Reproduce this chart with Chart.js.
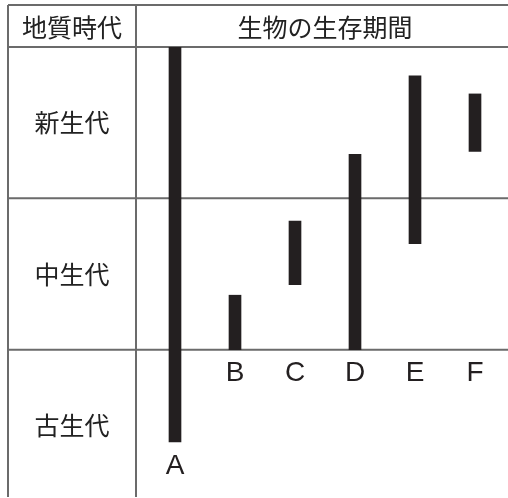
<!DOCTYPE html>
<html>
<head>
<meta charset="utf-8">
<script src="https://cdn.jsdelivr.net/npm/chart.js@4.4.0/dist/chart.umd.min.js"></script>
<style>
  html, body { margin: 0; padding: 0; background: #fff; }
  canvas { display: block; }
</style>
</head>
<body>
<canvas id="chart1" width="508" height="498"></canvas>
<script>
// 地質時代（上から新しい順）
const eras = ['新生代', '中生代', '古生代'];
// 生物 A〜F
const organisms = ['A', 'B', 'C', 'D', 'E', 'F'];
// 生存期間（時代の境目を 1, 2 とした目盛り。0 が現在、値が大きいほど古い）
const ageYoungest = [0.00, 1.64, 1.15, 0.71, 0.19, 0.31];
const ageOldest   = [2.61, 2.00, 1.57, 2.00, 1.30, 0.69];

const LineColor = '#6b6b6b';
const BarColor = '#231f20';
const TextFont = '"Noto Sans CJK JP", sans-serif';

// 表の罫線と文字
const tablePlugin = {
  id: 'table',
  beforeDatasetsDraw(chart) {
    const ctx = chart.ctx;
    const a = chart.chartArea;
    const y = chart.scales.y;
    const left = 8, top = 5, divider = a.left;
    ctx.save();
    ctx.strokeStyle = LineColor;
    ctx.lineWidth = 2;
    ctx.beginPath();
    ctx.moveTo(left, top); ctx.lineTo(a.right, top);              // 上
    ctx.moveTo(left, a.top); ctx.lineTo(a.right, a.top);          // 見出しの下
    for (let i = 1; i < eras.length; i++) {                       // 時代の境目
      const py = y.getPixelForValue(i);
      ctx.moveTo(left, py); ctx.lineTo(a.right, py);
    }
    ctx.moveTo(left, top); ctx.lineTo(left, a.bottom - 1);        // 左
    ctx.moveTo(divider, top); ctx.lineTo(divider, a.bottom - 1);  // 区切り
    ctx.stroke();
    ctx.restore();
  },
  afterDraw(chart) {
    const ctx = chart.ctx;
    const a = chart.chartArea;
    const x = chart.scales.x;
    const y = chart.scales.y;
    const colMid = (8 + a.left) / 2;
    ctx.save();
    ctx.fillStyle = '#222';
    ctx.textAlign = 'center';
    ctx.textBaseline = 'middle';
    ctx.font = '25px ' + TextFont;
    ctx.fillText('地質時代', colMid, 27);
    ctx.fillText('生物の生存期間', (a.left + a.right) / 2 + 3, 27);
    eras.forEach((name, i) => {
      ctx.fillText(name, colMid, y.getPixelForValue(i + 0.5));
    });
    // 生物の記号：棒の下端か古生代の上端の下
    ctx.fillStyle = BarColor;
    ctx.font = '28px "Liberation Sans", Arial, sans-serif';
    const edge = y.getPixelForValue(eras.length - 1);
    organisms.forEach((name, i) => {
      const bottom = Math.max(y.getPixelForValue(ageOldest[i]), edge);
      ctx.fillText(name, x.getPixelForValue(i), bottom + 24);
    });
    ctx.restore();
  }
};

Chart1 = new Chart('chart1', {
  type: 'bar',
  data: {
    datasets: [{
      data: organisms.map((n, i) => ({x: i, y: [ageYoungest[i], ageOldest[i]]})),
      backgroundColor: BarColor,
      borderWidth: 0,
      barThickness: 12
    }]
  },
  options: {
    responsive: false,
    animation: false,
    layout: { padding: { left: 136, top: 47, right: 0, bottom: 0 } },
    plugins: { legend: { display: false }, tooltip: { enabled: false } },
    scales: {
      x: { type: 'linear', offset: false, min: -0.65, max: 5.55, display: false },
      y: { type: 'linear', reverse: true, min: 0, max: 2.98, display: false }
    }
  },
  plugins: [tablePlugin]
});
</script>
</body>
</html>
